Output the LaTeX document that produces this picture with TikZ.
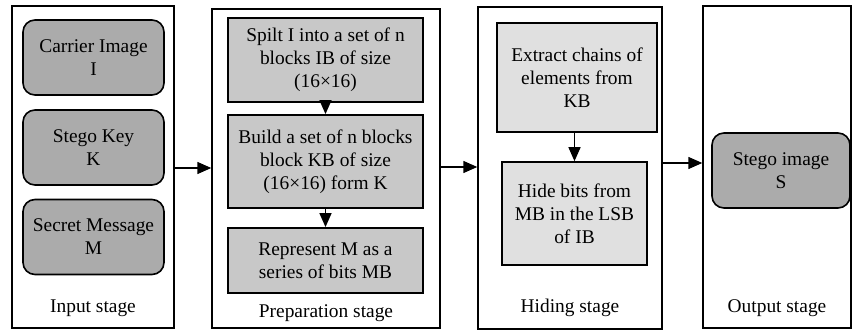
\documentclass[tikz,border=0pt]{standalone}
\usepackage{fontspec}
\setmainfont{Liberation Serif}
\usepackage{tikz}
\usetikzlibrary{arrows.meta, positioning, calc}
\usepackage{xcolor}
\definecolor{ingray}{RGB}{171, 171, 171}
\definecolor{prepgray}{RGB}{200, 200, 200}
\definecolor{hidegray}{RGB}{224, 224, 224}

\begin{document}
\begin{tikzpicture}[
    x=0.5pt, y=-0.5pt,
    font=\fontsize{9.7}{11.5}\selectfont,
    stage/.style={
        rectangle,
        draw=black,
        line width=0.7pt,
        fill=white,
        inner sep=0pt,
        minimum width=#1
    },
    stage/.default=150,
    rbox/.style={
        rectangle,
        draw=black,
        line width=0.8pt,
        fill=ingray,
        rounded corners=6pt,
        align=center,
        inner sep=2pt,
        minimum width=70.5pt,
        minimum height=37.5pt
    },
    pbox/.style={
        rectangle,
        draw=black,
        line width=0.9pt,
        fill=prepgray,
        align=center,
        inner sep=2pt,
        minimum width=97.5pt
    },
    hbox/.style={
        rectangle,
        draw=black,
        line width=0.8pt,
        fill=hidegray,
        align=center,
        inner sep=2pt
    },
    line/.style={draw, line width=0.7pt, -{Triangle[length=7pt, width=6pt]}}
]
    \useasboundingbox (0,0) rectangle (852,331);

    % Stages
    \node [stage=81pt, minimum height=161pt] (instage) at (93,167) {};
    \node [stage=114pt, minimum height=159.5pt] (prepstage) at (326,168.5) {};
    \node [stage=92pt, minimum height=161pt] (hidestage) at (570,168) {};
    \node [stage=74pt, minimum height=161pt] (outstage) at (777,167) {};

    % Input stage
    \node [rbox] (carrier) at (93.5,57.5) {Carrier Image\\I};
    \node [rbox] (key) at (93.5,147.5) {Stego Key\\K};
    \node [rbox] (secret) at (93.5,237) {Secret Message\\M};
    \node (inlabel) at (93,308) {Input stage};

    % Preparation stage
    \node [pbox, minimum height=42pt] (split) at (325.5,60) {Spilt I into a set of n\\blocks IB of size\\(16×16)};
    \node [pbox, minimum height=46.5pt] (build) at (325.5,161.5) {Build a set of n blocks\\block KB of size\\(16×16) form K};
    \node [pbox, minimum height=32.5pt] (repr) at (325.5,260.5) {Represent M as a\\series of bits MB};
    \node (preplabel) at (326,313) {Preparation stage};

    % Hiding stage
    \node [hbox, minimum width=80pt, minimum height=54.5pt] (extract) at (577,77.5) {Extract chains of\\elements from\\KB};
    \node [hbox, minimum width=72.5pt, minimum height=51.5pt] (hide) at (574.5,213.5) {Hide bits from\\MB in the LSB\\of IB};
    \node (hidelabel) at (570,308) {Hiding stage};

    % Output stage
    \node [rbox, minimum width=69pt] (stegoimg) at (781,170.5) {Stego image\\S};
    \node (outlabel) at (777,308) {Output stage};

    % Connections
    \path [line] (split) -- (build);
    \path [line] (build) -- (repr);
    \path [line] (extract.south -| hide) -- (hide.north);
    \path [line] ($(instage.east)+(0,1)$) -- ($(instage.east -| prepstage.west)+(0,1)$);
    \path [line] ($(prepstage.east)+(0,-1.5)$) -- ($(prepstage.east -| hidestage.west)+(0,-1.5)$);
    \path [line] ($(hidestage.east)+(0,-5)$) -- ($(hidestage.east -| outstage.west)+(0,-5)$);

\end{tikzpicture}
\end{document}
